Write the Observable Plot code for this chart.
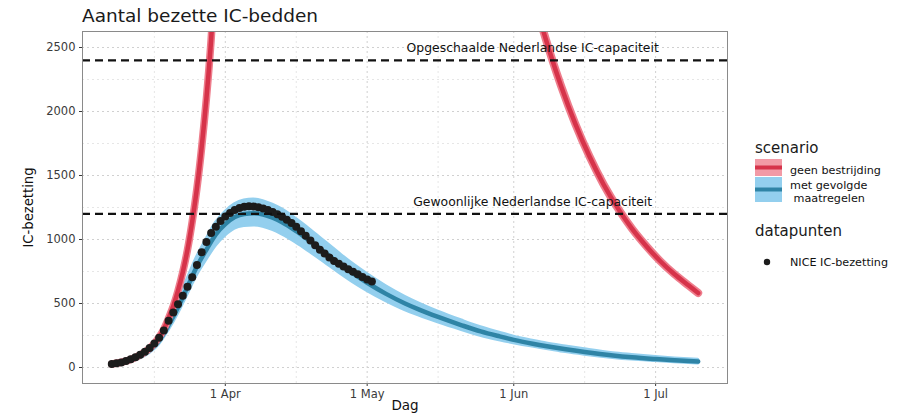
<!DOCTYPE html>
<html>
<head>
<meta charset="utf-8">
<script src="https://cdn.jsdelivr.net/npm/d3@7"></script>
<script src="https://cdn.jsdelivr.net/npm/@observablehq/plot@0.6"></script>
<style>
  html, body { margin: 0; padding: 0; background: #fff; }
  #wrap { position: relative; width: 922px; height: 416px; overflow: hidden; font-family: "DejaVu Sans", sans-serif; }
  #chart { position: absolute; left: 0; top: 26px; }
  #overlay { position: absolute; left: 0; top: 0; pointer-events: none; }
</style>
</head>
<body>
<div id="wrap">
  <div id="chart"></div>
  <svg id="overlay" width="922" height="416"></svg>
</div>
<script>
// ---------------- DATA ----------------
const titleText = "Aantal bezette IC-bedden";
const yLabel = "IC-bezetting";
const xLabel = "Dag";

const scenarioTitle = "scenario";
const scenarioLabels = ["geen bestrijding", "met gevolgde", " maatregelen"];
const dataTitle = "datapunten";
const dataLabel = "NICE IC-bezetting";

// NICE IC occupancy, daily from niceStart
const niceStart = "2020-03-08";
const niceValues = [28,33,40,50,64,80,100,124,152,188,233,290,365,430,495,560,630,705,800,900,
  980,1050,1100,1145,1180,1208,1230,1246,1255,1260,1258,1252,1243,1230,1215,1198,1178,1155,1128,1100,
  1065,1030,992,955,919,890,860,833,810,789,768,748,728,708,688,672];

// scenario "met gevolgde maatregelen" (model with band)
const blueDates = ["2020-03-08","2020-03-12","2020-03-16","2020-03-18","2020-03-20","2020-03-22","2020-03-24","2020-03-26","2020-03-28","2020-03-30",
  "2020-04-01","2020-04-03","2020-04-05","2020-04-07","2020-04-09","2020-04-11","2020-04-13","2020-04-16","2020-04-19","2020-04-22",
  "2020-04-25","2020-04-28","2020-05-01","2020-05-05","2020-05-09","2020-05-12","2020-05-16","2020-05-21","2020-05-25","2020-05-29",
  "2020-06-01","2020-06-05","2020-06-08","2020-06-12","2020-06-16","2020-06-22","2020-06-26","2020-07-01","2020-07-05","2020-07-10"];
const blueMid = [25,55,135,210,330,470,630,790,920,1040,1120,1175,1200,1205,1195,1170,1135,1065,985,900,
  815,735,662,575,500,452,395,330,282,243,216,186,166,142,121,94,80,66,56,46];
const blueLo = [15,42,112,180,290,420,570,720,840,950,1030,1085,1105,1110,1100,1075,1040,975,900,822,
  742,666,598,518,448,405,353,293,248,213,190,163,145,120,100,75,62,50,41,32];
const blueHi = [35,68,158,240,370,520,690,860,1000,1130,1215,1275,1305,1312,1300,1272,1235,1160,1075,985,
  895,808,730,635,553,500,437,367,315,272,241,209,187,164,142,112,98,82,71,60];

// scenario "geen bestrijding" (rises off the chart, comes back later)
const redRiseDates = ["2020-03-08","2020-03-12","2020-03-16","2020-03-17","2020-03-18","2020-03-19","2020-03-20","2020-03-21","2020-03-22",
  "2020-03-23","2020-03-24","2020-03-25","2020-03-26","2020-03-27","2020-03-28","2020-03-29","2020-03-30"];
const redRiseValues = [28,62,150,188,238,300,385,480,600,745,920,1140,1400,1720,2100,2560,3150];
const redFallDates = ["2020-06-03","2020-06-05","2020-06-07","2020-06-09","2020-06-11","2020-06-14","2020-06-17","2020-06-20",
  "2020-06-23","2020-06-26","2020-06-29","2020-07-02","2020-07-05","2020-07-08","2020-07-10"];
const redFallValues = [3200,2920,2660,2420,2200,1905,1650,1430,1245,1085,950,830,728,640,582];

// capacity reference lines
const capLabels = ["Opgeschaalde Nederlandse IC-capaciteit", "Gewoonlijke Nederlandse IC-capaciteit"];
const capValues = [2400, 1200];
const capLabelDate = "2020-06-05";

// axes
const yTicks = [0, 500, 1000, 1500, 2000, 2500];
const yMinor = [250, 750, 1250, 1750, 2250];
const xTickDates = ["2020-04-01", "2020-05-01", "2020-06-01", "2020-07-01"];
const xMinorDates = ["2020-03-17", "2020-04-16", "2020-05-16", "2020-06-16"];

// ---------------- BUILD ----------------
const parse = d3.utcParse("%Y-%m-%d");
const nice = niceValues.map((v, i) => ({date: d3.utcDay.offset(parse(niceStart), i), v}));
const blueRows = blueDates.map((d, i) => ({date: parse(d), mid: blueMid[i], lo: blueLo[i], hi: blueHi[i]}));
const redRise = redRiseDates.map((d, i) => ({date: parse(d), v: redRiseValues[i]}));
const redFall = redFallDates.map((d, i) => ({date: parse(d), v: redFallValues[i]}));
const capRows = capLabels.map((label, i) => ({label, value: capValues[i], date: parse(capLabelDate)}));
const xTicks = xTickDates.map(parse);
const xMinor = xMinorDates.map(parse);

// ggplot-like 5% expansion of the x data range
const allDates = [...nice.map(d => d.date), ...blueRows.map(d => d.date), ...redFall.map(d => d.date)];
const ext = d3.extent(allDates);
const pad = (ext[1] - ext[0]) * 0.05;
const xDomain = [new Date(+ext[0] - pad), new Date(+ext[1] + pad)];

const RED_HALO = "#ee7d8c", RED = "#d6334a";
const BLUE_BAND = "#93cfee", BLUE = "#2f84a6";

const chart = Plot.plot({
  width: 922,
  height: 390,
  marginLeft: 82,
  marginRight: 195,
  marginTop: 5,
  marginBottom: 33,
  style: {fontFamily: "'DejaVu Sans', sans-serif", fontSize: "11.5px", color: "#3a3a3a", background: "white", overflow: "visible"},
  x: {type: "utc", domain: xDomain, ticks: xTicks, tickFormat: d3.utcFormat("%-d %b"), tickSize: 3, tickPadding: 3, label: null},
  y: {domain: [-125, 2625], ticks: yTicks, tickFormat: d3.format("d"), tickSize: 3, tickPadding: 4, label: null},
  marks: [
    Plot.ruleY(yMinor, {stroke: "#e6e6e6", strokeDasharray: "2,3"}),
    Plot.ruleX(xMinor, {stroke: "#e6e6e6", strokeDasharray: "2,3"}),
    Plot.ruleY(yTicks, {stroke: "#d0d0d0", strokeDasharray: "2,3"}),
    Plot.ruleX(xTicks, {stroke: "#d0d0d0", strokeDasharray: "2,3"}),
    Plot.areaY(blueRows, {x: "date", y1: "lo", y2: "hi", fill: BLUE_BAND, stroke: BLUE_BAND, strokeWidth: 3, curve: "monotone-x", clip: true}),
    Plot.line(blueRows, {x: "date", y: "mid", stroke: BLUE, strokeWidth: 4.5, curve: "monotone-x", clip: true}),
    Plot.line(redRise, {x: "date", y: "v", stroke: RED_HALO, strokeWidth: 7.5, curve: "monotone-x", clip: true}),
    Plot.line(redRise, {x: "date", y: "v", stroke: RED, strokeWidth: 4.5, curve: "monotone-x", clip: true}),
    Plot.line(redFall, {x: "date", y: "v", stroke: RED_HALO, strokeWidth: 8, curve: "monotone-x", clip: true}),
    Plot.line(redFall, {x: "date", y: "v", stroke: RED, strokeWidth: 4.5, curve: "monotone-x", clip: true}),
    Plot.dot(nice, {x: "date", y: "v", r: 4, fill: "#1c1c1c", stroke: null}),
    Plot.ruleY(capValues, {stroke: "#111", strokeWidth: 2.2, strokeDasharray: "8,5"}),
    Plot.text(capRows, {x: "date", y: "value", text: "label", dy: -12, fontSize: 12.4, fill: "#111"}),
    Plot.text([yLabel], {frameAnchor: "left", dx: -54, rotate: -90, textAnchor: "middle", lineAnchor: "middle", fontSize: 13.2, fill: "#111"}),
    Plot.text([xLabel], {frameAnchor: "bottom", dy: 22, textAnchor: "middle", lineAnchor: "middle", fontSize: 13.5, fill: "#111"}),
    Plot.frame({stroke: "#8a8a8a"})
  ]
});
document.getElementById("chart").append(chart);

// ---------------- TITLE + LEGEND ----------------
const ov = d3.select("#overlay").attr("font-family", "'DejaVu Sans', sans-serif");
ov.append("text").attr("x", 82).attr("y", 22).attr("font-size", 18.5).attr("fill", "#1a1a1a").text(titleText);

ov.append("text").attr("x", 755).attr("y", 153).attr("font-size", 15).attr("fill", "#1a1a1a").text(scenarioTitle);
// red key
ov.append("rect").attr("x", 755).attr("y", 159).attr("width", 27).attr("height", 17).attr("fill", "#f29aa6");
ov.append("line").attr("x1", 755).attr("x2", 782).attr("y1", 167.5).attr("y2", 167.5).attr("stroke", RED).attr("stroke-width", 4);
// blue key
ov.append("rect").attr("x", 755).attr("y", 177).attr("width", 27).attr("height", 25).attr("fill", BLUE_BAND);
ov.append("line").attr("x1", 755).attr("x2", 782).attr("y1", 189.5).attr("y2", 189.5).attr("stroke", BLUE).attr("stroke-width", 4);
ov.append("text").attr("x", 790).attr("y", 174).attr("font-size", 11.2).attr("fill", "#111").text(scenarioLabels[0]);
ov.append("text").attr("x", 790).attr("y", 189).attr("font-size", 11.2).attr("fill", "#111").text(scenarioLabels[1]);
ov.append("text").attr("x", 790).attr("y", 202).attr("font-size", 11.2).attr("fill", "#111").style("white-space", "pre").text(scenarioLabels[2]);

ov.append("text").attr("x", 755).attr("y", 236).attr("font-size", 15).attr("fill", "#1a1a1a").text(dataTitle);
ov.append("circle").attr("cx", 767).attr("cy", 262).attr("r", 3.2).attr("fill", "#1c1c1c");
ov.append("text").attr("x", 790).attr("y", 266).attr("font-size", 11.2).attr("fill", "#111").text(dataLabel);
</script>
</body>
</html>
